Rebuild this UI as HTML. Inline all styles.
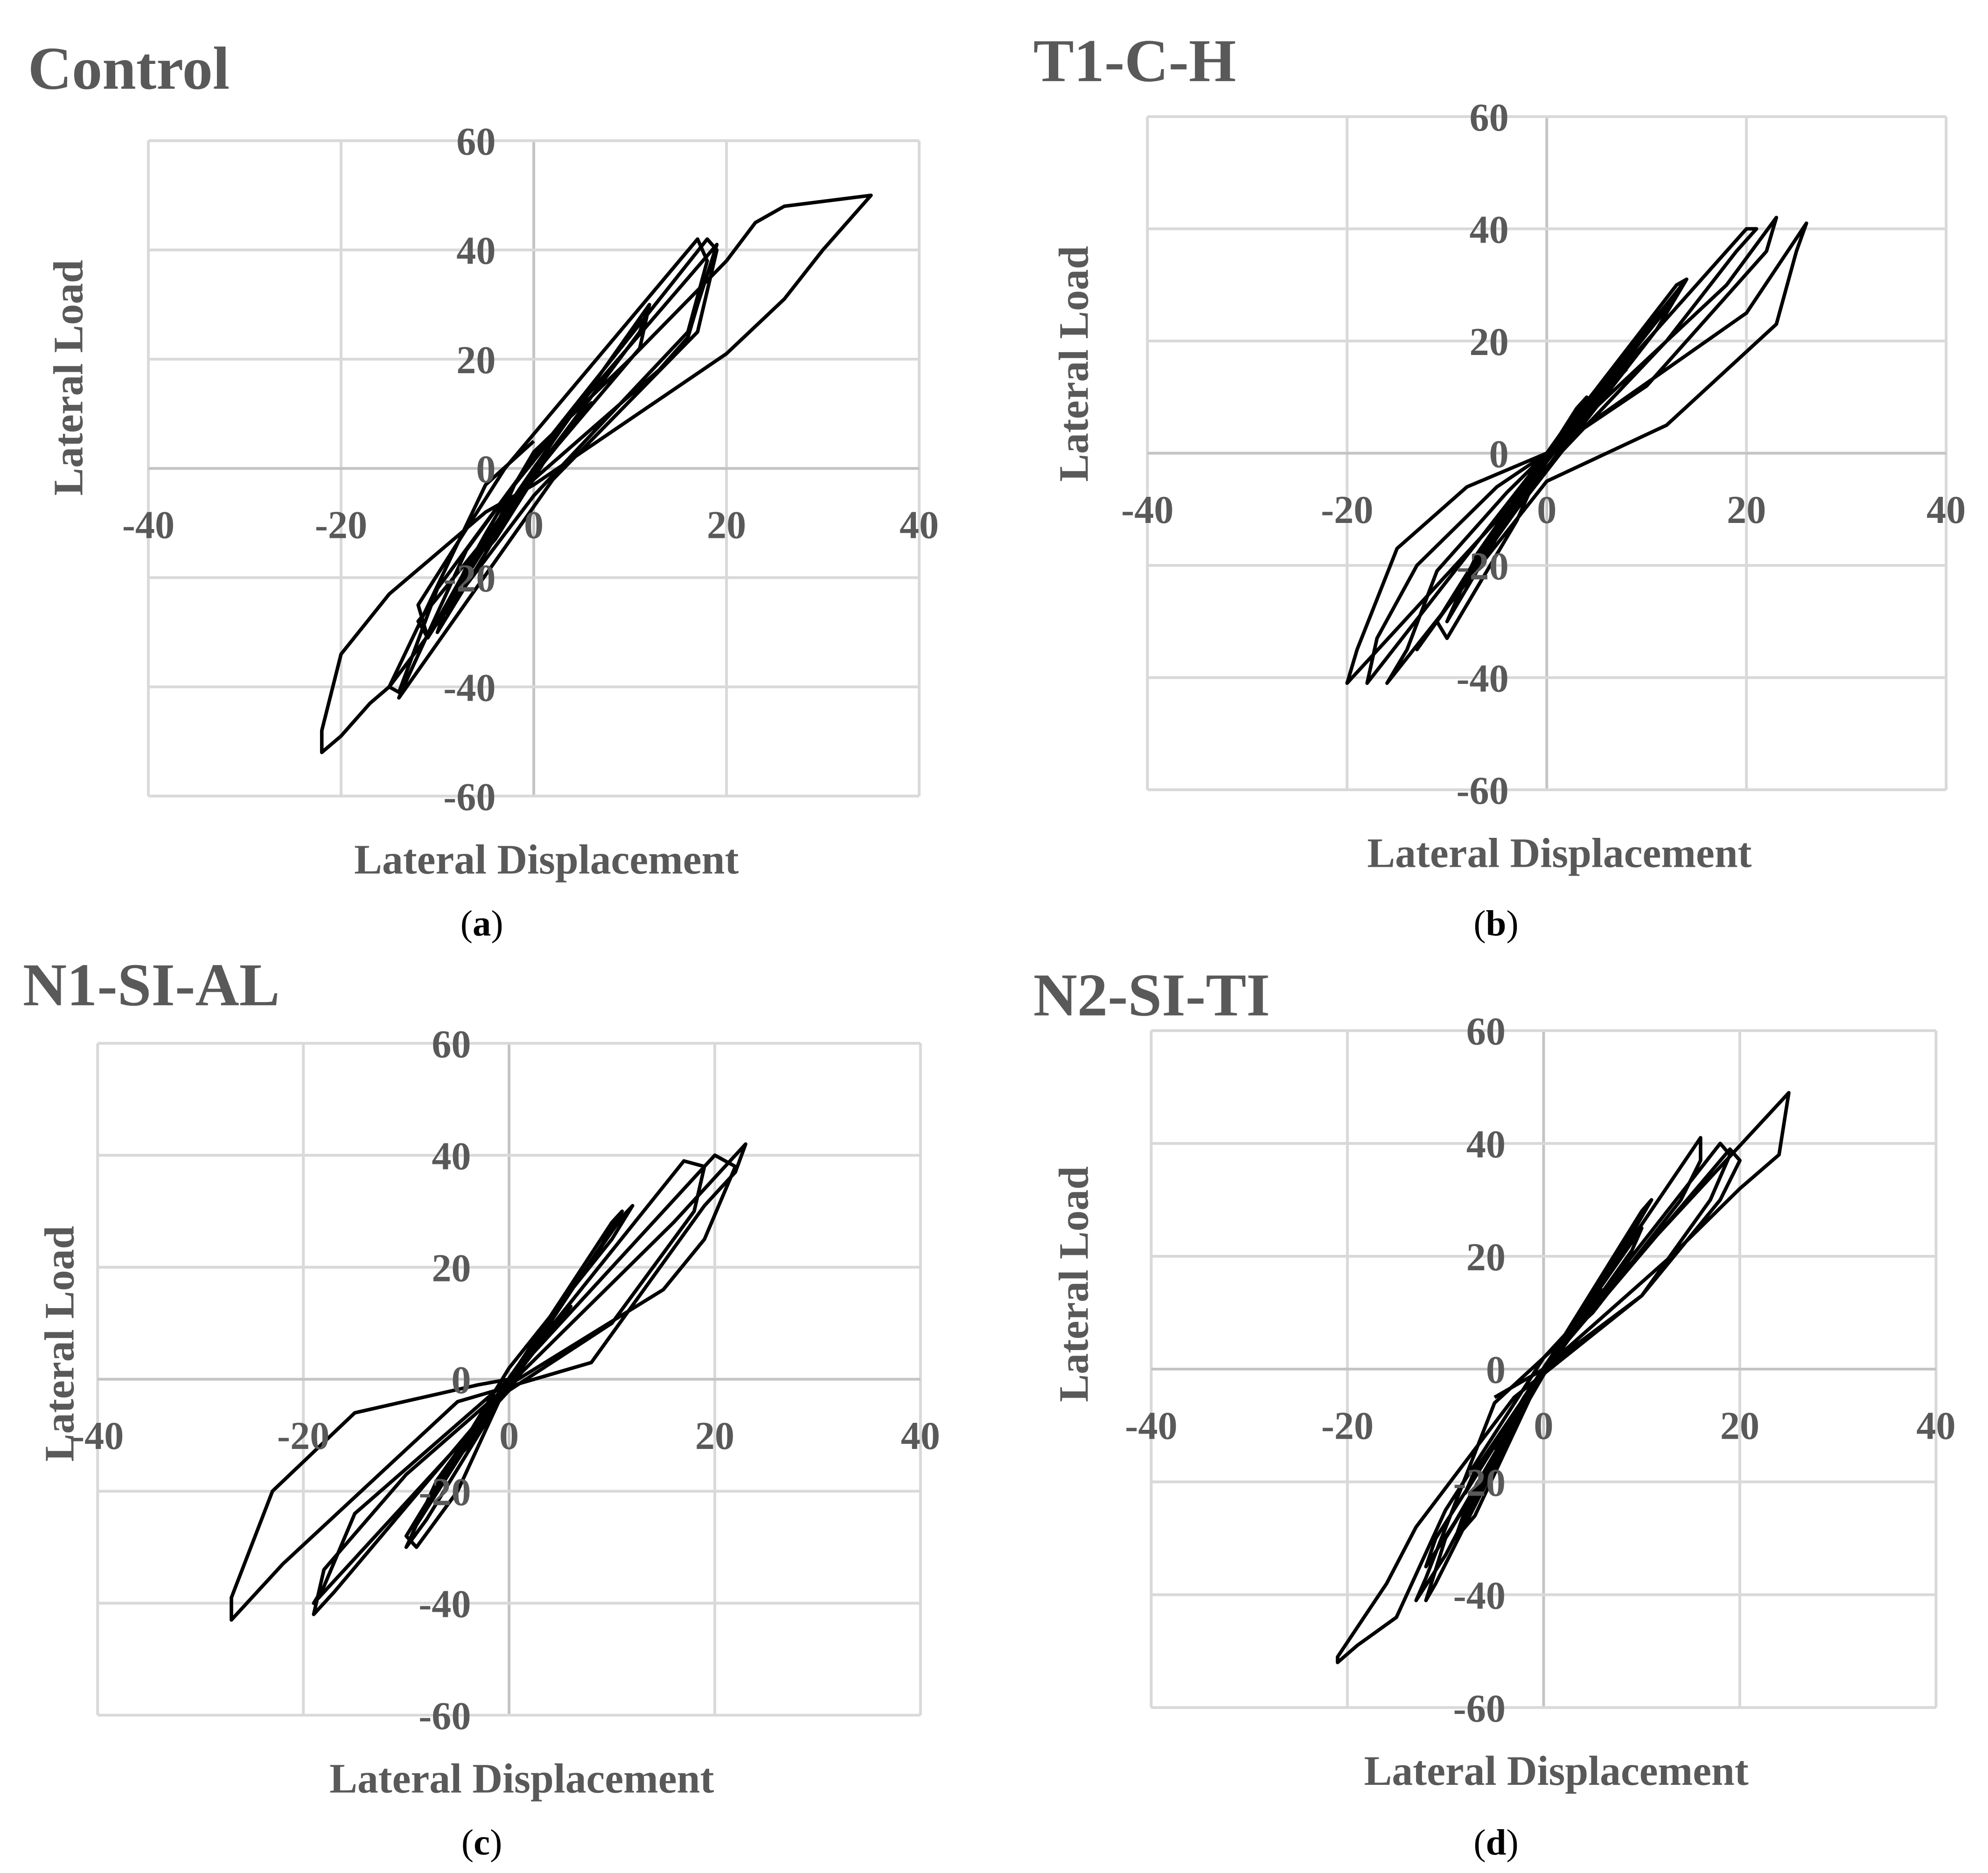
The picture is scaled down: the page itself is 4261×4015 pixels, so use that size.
<!DOCTYPE html>
<html><head><meta charset="utf-8"><style>
html,body{margin:0;padding:0;background:#fff;}
svg{display:block;}
text{font-family:"Liberation Serif",serif;}
</style></head><body>
<svg id="fig" width="4261" height="4015" viewBox="0 0 1568 1477.5" xmlns="http://www.w3.org/2000/svg"></svg>
<script>
const xTicks=[-40,-20,0,20,40];
const yTicks=[60,40,20,0,-20,-40,-60];
const panelTitles=["Control","T1-C-H","N1-SI-AL","N2-SI-TI"];
const panelLetters=["(a)","(b)","(c)","(d)"];
const dispControl=[0,4,3,-2,-5,-4,1,6,5,-3,-8,-7,0,10,12,11,0,-10,-9,2,12,11,-1,-11,-12,-3,17,18,16,0,-15,-14,-10,0,18,19,17,2,-14,-13,-7,0,19,17,16,13,0,-12,-11,-5,0,10,20,23,26,35,30,26,20,0,-5,-15,-20,-22,-22,-20,-17,-15,-5,0];
const loadControl=[0,10,8,-3,-15,-13,1,12,10,-8,-22,-18,0,25,30,25,-1,-30,-25,5,30,22,-3,-31,-25,0,42,38,25,-5,-40,-41,-22,2,42,40,25,-2,-42,-38,-15,2,41,30,24,18,-2,-28,-31,-12,3,20,38,45,48,50,40,31,21,-3,-8,-23,-34,-48,-52,-49,-43,-40,-3,5];
const dispT1=[0,4,3,-2,-5,-4,1,7,6,-3,-8,-7,0,9,8,-4,-10,-8,0,14,13,5,-5,-11,-10,-3,0,13,14,11,-3,-13,-11,0,20,21,19,12,-4,-20,-19,-15,-8,0,18,23,22,18,10,0,-18,-17,-13,-5,0,20,26,25,23,12,0,-16,-14,-11,-4,0,8];
const loadT1=[0,10,8,-6,-15,-12,2,15,12,-10,-22,-18,0,20,16,-12,-30,-22,0,31,28,10,-13,-30,-33,-12,0,30,31,22,-10,-35,-30,0,40,40,36,20,-10,-41,-35,-17,-6,0,30,42,36,28,12,0,-41,-33,-20,-6,0,25,41,36,23,5,-5,-41,-35,-21,-7,0,15];
const dispN1=[0,4,3,-2,-5,-4,1,6,5,-3,-8,-7,0,10,11,9,0,-8,-10,-9,0,11,12,10,0,-10,-9,-5,0,17,19,18,10,0,-19,-18,-15,-5,0,20,22,19,15,0,-17,-19,-18,-10,0,16,23,22,19,8,-5,-22,-27,-27,-23,-15,-3,0];
const loadN1=[0,10,8,-5,-14,-12,2,13,11,-8,-22,-18,0,28,30,24,-1,-25,-30,-26,0,29,31,25,2,-28,-30,-20,0,39,38,30,10,-2,-40,-37,-24,-8,0,40,38,25,16,-1,-38,-42,-34,-17,-1,28,42,37,31,3,-4,-33,-43,-39,-20,-6,-1,0];
const dispN2=[0,4,3,-2,-5,-4,1,6,5,-3,-8,-7,0,8,10,9,0,-8,-9,-7,0,10,11,9,0,-11,-12,-10,-3,0,16,16,14,5,-5,-12,-13,-10,0,18,19,17,10,0,-11,-12,-9,0,19,20,18,10,-3,-13,-16,-21,-21,-19,-15,-10,0,25,24,20,13,0,-5];
const loadN2=[0,10,8,-5,-14,-12,2,14,12,-8,-22,-18,0,20,25,21,-1,-25,-30,-26,0,28,30,24,0,-38,-41,-30,-10,0,41,37,30,10,-6,-37,-41,-33,0,40,38,30,13,0,-30,-35,-27,0,39,37,30,13,-5,-28,-38,-51,-52,-49,-44,-25,2,49,38,32,20,0,-5];
const dispSeries=[dispControl,dispT1,dispN1,dispN2];
const loadSeries=[loadControl,loadT1,loadN1,loadN2];
const NS="http://www.w3.org/2000/svg";
const svg=document.getElementById('fig');
const panels=[
 {l:117,r:725,t:111,b:628,tx:22,ty:70,lx:380,ly:738,yx:65,yc:298},
 {l:905,r:1535,t:92,b:623,tx:815,ty:64,lx:1180,ly:738,yx:858,yc:287},
 {l:77,r:726,t:823,b:1353,tx:18,ty:793,lx:380,ly:1463,yx:58,yc:1060},
 {l:908,r:1527,t:813,b:1347,tx:815,ty:801,lx:1180,ly:1463,yx:858,yc:1013}];
function mk(tag,attrs,parent){const e=document.createElementNS(NS,tag);for(const k in attrs)e.setAttribute(k,attrs[k]);(parent||svg).appendChild(e);return e;}
panels.forEach((p,i)=>{
 const g=mk('g',{});
 
 
 const xs=v=>p.l+(v+40)/80*(p.r-p.l);
 const ys=v=>p.t+(60-v)/120*(p.b-p.t);
 xTicks.forEach(v=>{const ln=mk('line',{x1:xs(v),x2:xs(v),y1:p.t,y2:p.b,stroke:v===0?'#c4c4c4':'#d9d9d9','stroke-width':2.2},g);
  
  });
 yTicks.forEach(v=>{const ln=mk('line',{x1:p.l,x2:p.r,y1:ys(v),y2:ys(v),stroke:v===0?'#c4c4c4':'#d9d9d9','stroke-width':2.2},g);
  
  });
 const d=dispSeries[i],L=loadSeries[i];
 let pts=d.map((x,k)=>xs(x).toFixed(1)+','+ys(L[k]).toFixed(1)).join(' ');
 const pl=mk('polyline',{points:pts,fill:'none',stroke:'#000','stroke-width':2.8,'stroke-linejoin':'round'},g);
 
 
 xTicks.forEach(v=>{const t=mk('text',{x:xs(v),y:ys(0)+55,'text-anchor':'middle','font-size':31,'font-weight':'bold',fill:'#595959'},g);t.textContent=v;
  
  });
 yTicks.forEach(v=>{const t=mk('text',{x:xs(0)-30,y:ys(v)+11,'text-anchor':'end','font-size':31,'font-weight':'bold',fill:'#595959'},g);t.textContent=v;
  
  });
 const ti=mk('text',{x:p.tx,y:p.ty,'font-size':48,'font-weight':'bold',fill:'#595959'},g);ti.textContent=panelTitles[i];
 
 
 const yt=mk('text',{x:p.yx,y:p.yc,'text-anchor':'middle','font-size':33,'font-weight':'bold',fill:'#595959',transform:`rotate(-90 ${p.yx} ${p.yc})`},g);yt.textContent='Lateral Load';
 
 
 const xt=mk('text',{x:(p.l+p.r)/2+10,y:p.b+61,'text-anchor':'middle','font-size':33,'font-weight':'bold',fill:'#595959'},g);xt.textContent='Lateral Displacement';
 
 
 const lt=mk('text',{x:p.lx,y:p.ly,'text-anchor':'middle','font-size':29,fill:'#000'},g);
 lt.innerHTML='(<tspan font-weight="bold">'+panelLetters[i][1]+'</tspan>)';
 
 
});
</script>
</body></html>
